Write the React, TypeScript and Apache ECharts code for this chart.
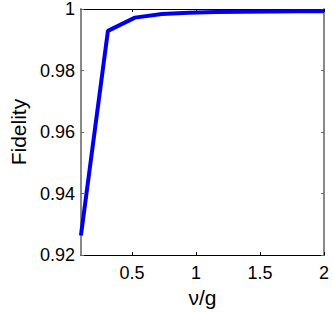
import React, { useEffect, useRef } from "react";
import * as echarts from "echarts";

const xValues = [0.1, 0.3111, 0.5222, 0.7333, 0.9444, 1.1556, 1.3667, 1.5778, 1.7889, 2.0];
const fidelity = [0.9264, 0.9929, 0.9972, 0.9984, 0.9988, 0.9990, 0.9991, 0.9992, 0.9993, 0.9993];
const xTicks = [0.5, 1, 1.5, 2];

export default function App() {
  const ref = useRef<HTMLDivElement>(null);
  useEffect(() => {
    document.body.style.margin = "0";
    const chart = echarts.init(ref.current!, null, { renderer: "svg" });
    const font = "Liberation Sans";
    const fmt = (v: number) => String(Math.round(v * 1000) / 1000);
    chart.setOption({
      animation: false,
      backgroundColor: "#fff",
      grid: { left: 69, top: 8, right: 5, bottom: 51, containLabel: false },
      xAxis: [
        {
          type: "value",
          position: "bottom",
          min: 0.1,
          max: 2,
          name: "ν/g",
          nameLocation: "middle",
          nameGap: 26,
          nameTextStyle: { fontSize: 21, color: "#000", fontFamily: font },
          axisLine: { show: true, onZero: false, lineStyle: { color: "#000", width: 1 } },
          axisTick: { show: true, inside: true, length: 3, customValues: xTicks, lineStyle: { color: "#000" } },
          axisLabel: { customValues: xTicks, fontSize: 18, color: "#000", fontFamily: font, margin: 9, formatter: fmt },
          splitLine: { show: false },
        },
        {
          type: "value",
          position: "top",
          min: 0.1,
          max: 2,
          axisLine: { show: true, onZero: false, lineStyle: { color: "#000", width: 1 } },
          axisTick: { show: true, inside: true, length: 3, customValues: xTicks, lineStyle: { color: "#000" } },
          axisLabel: { show: false },
          splitLine: { show: false },
        },
      ],
      yAxis: [
        {
          type: "value",
          position: "left",
          min: 0.92,
          max: 1,
          interval: 0.02,
          name: "Fidelity",
          nameLocation: "middle",
          nameGap: 47,
          nameTextStyle: { fontSize: 21, color: "#000", fontFamily: font },
          axisLine: { show: true, onZero: false, lineStyle: { color: "#888", width: 2 } },
          axisTick: { show: true, inside: true, length: 3, lineStyle: { color: "#666" } },
          axisLabel: { fontSize: 18, color: "#000", fontFamily: font, margin: 6, formatter: fmt },
          splitLine: { show: false },
        },
        {
          type: "value",
          position: "right",
          min: 0.92,
          max: 1,
          interval: 0.02,
          axisLine: { show: true, onZero: false, lineStyle: { color: "#888", width: 2 } },
          axisTick: { show: true, inside: true, length: 3, lineStyle: { color: "#666" } },
          axisLabel: { show: false },
          splitLine: { show: false },
        },
      ],
      series: [
        {
          type: "line",
          data: xValues.map((x, i) => [x, fidelity[i]]),
          showSymbol: false,
          symbol: "none",
          lineStyle: { color: "#0000ee", width: 4 },
          clip: false,
        },
      ],
    });
    return () => chart.dispose();
  }, []);
  return <div ref={ref} style={{ position: "absolute", left: 0, top: 0, width: 332, height: 313 }} />;
}
